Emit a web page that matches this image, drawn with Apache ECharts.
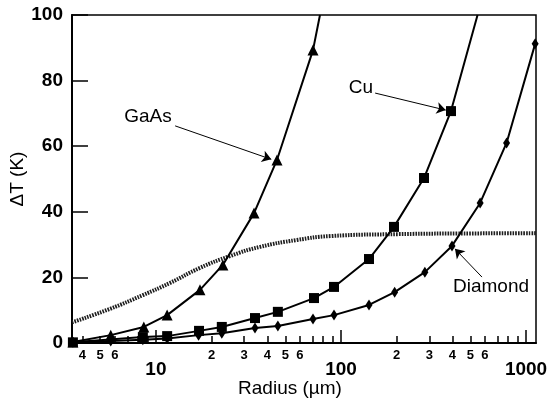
<!DOCTYPE html>
<html><head><meta charset="utf-8">
<script src="https://cdn.jsdelivr.net/npm/echarts@6/dist/echarts.min.js"></script>
<style>html,body{margin:0;padding:0;background:#fff}#c{width:550px;height:404px}</style>
</head><body><div id="c"></div>
<script>
// ---- data ----
const radiusGaAs = [3.56, 5.7, 8.6, 11.5, 17.3, 23.0, 33.9, 45.1, 70.6];
const dTGaAs     = [0.3, 2.4, 4.9, 8.5, 16.2, 23.8, 39.6, 55.8, 89.3];
const gaasTopExit = [77, 100];

const radiusCu = [3.56, 8.5, 11.5, 17.1, 22.7, 34.3, 45.6, 71.5, 91.7, 141.7, 193.4, 281, 393];
const dTCu     = [0.2, 1.8, 2.1, 3.7, 4.9, 7.6, 9.5, 13.7, 17.1, 25.6, 35.4, 50.3, 70.7];
const cuTopExit = [547, 100];

const radiusDiamond = [3.56, 5.7, 8.5, 11.5, 17.0, 22.7, 34.3, 45.6, 70.6, 91.7, 141.7, 195, 284, 398, 565, 785, 1120];
const dTDiamond     = [0.2, 0.6, 1.0, 1.4, 2.4, 3.0, 4.6, 5.2, 7.3, 8.5, 11.6, 15.5, 21.6, 29.6, 42.7, 61.0, 91.2];

const radiusFilm = [3.52, 5.64, 8.5, 11.9, 17.3, 25.1, 36.5, 57.7, 87.3, 208, 497, 1132];
const dTFilm     = [6.3, 10.4, 14.6, 18.3, 22.9, 26.5, 29.3, 31.4, 32.6, 33.2, 33.4, 33.5];

const xRange = [3.52, 1132];
const yTicks = [0, 20, 40, 60, 80, 100];
const minorTicks  = [4,5,6,7,8,9,20,30,40,50,60,70,80,90,200,300,400,500,600,700,800,900];
const minorLabels = [4,5,6,20,30,40,50,60,200,300,400,500,600];
const majorTicks  = [10, 100, 1000];

// annotations: label position, arrow start, arrow end (data coordinates)
const noteGaAs    = {text: 'GaAs',    at: [9.05, 68.9], from: [12.7, 66.2], to: [42, 56]};
const noteCu      = {text: 'Cu',      at: [128, 77.7],  from: [153, 76.2],  to: [368, 71.0]};
const noteDiamond = {text: 'Diamond', at: [647, 17.1],  from: [578, 20.1],  to: [413, 28.7]};

// ---- chart ----
const FONT = '"Liberation Sans", Arial, Helvetica, sans-serif';
const lg = Math.log10;
function pairs(xs, ys) { return xs.map((x, i) => [x, ys[i]]); }
function withExit(xs, ys, exit) {
  const d = pairs(xs, ys);
  if (exit) d.push({value: exit, symbol: 'none'});
  return d;
}
function leadDigit(v) {
  const r = Math.round(Math.pow(10, v));
  const p = Math.pow(10, Math.floor(Math.log10(r) + 1e-9));
  return String(Math.round(r / p));
}
function note(n) {
  return {
    markPoint: {
      silent: true, symbol: 'circle', symbolSize: 1, itemStyle: {color: 'rgba(0,0,0,0)'},
      label: {show: true, position: 'inside', formatter: n.text, color: '#000', fontSize: 19, fontFamily: FONT},
      data: [{coord: n.at}]
    },
    markLine: {
      silent: true, symbol: ['none', 'arrow'], symbolSize: 9,
      itemStyle: {color: '#000'},
      lineStyle: {color: '#000', width: 1, type: 'solid'},
      label: {show: false}, emphasis: {disabled: true},
      data: [[{coord: n.from}, {coord: n.to}]]
    }
  };
}

const chart = echarts.init(document.getElementById('c'), null, {renderer: 'canvas'});
const blackLine = {color: '#000', width: 2};
chart.setOption({
  animation: false,
  backgroundColor: '#fff',
  grid: {left: 72, right: 14, top: 15, bottom: 61, show: true, borderColor: '#000', borderWidth: 1.5,
         containLabel: false, outerBoundsMode: 'none'},
  xAxis: [
    {type: 'log', logBase: 10, min: xRange[0], max: xRange[1], position: 'bottom',
     name: 'Radius (µm)', nameLocation: 'middle', nameGap: 36, nameMoveOverlap: false,
     nameTextStyle: {fontFamily: FONT, fontSize: 19, color: '#000', padding: [0, 28, 0, 0]},
     axisLine: {show: true, lineStyle: {color: '#000', width: 2}},
     axisTick: {show: false}, axisLabel: {show: false}, splitLine: {show: false},
     minorTick: {show: false}, minorSplitLine: {show: false}},
    {type: 'value', min: lg(xRange[0]), max: lg(xRange[1]), position: 'bottom',
     axisLine: {show: false}, splitLine: {show: false},
     axisTick: {show: true, inside: true, length: 7, lineStyle: {color: '#000', width: 1.5},
                customValues: minorTicks.map(lg)},
     axisLabel: {show: true, customValues: minorLabels.map(lg), formatter: leadDigit, margin: 6,
                 fontFamily: FONT, fontSize: 13, fontWeight: 'bold', color: '#000'}},
    {type: 'value', min: lg(xRange[0]), max: lg(xRange[1]), position: 'bottom',
     axisLine: {show: false}, splitLine: {show: false},
     axisTick: {show: true, inside: true, length: 13, lineStyle: {color: '#000', width: 1.5},
                customValues: majorTicks.map(lg)},
     axisLabel: {show: true, customValues: majorTicks.map(lg),
                 formatter: v => String(Math.round(Math.pow(10, v))), margin: 17,
                 fontFamily: FONT, fontSize: 19, fontWeight: 'bold', color: '#000'}}
  ],
  yAxis: {
    type: 'value', min: yTicks[0], max: yTicks[yTicks.length - 1], interval: 20,
    name: 'ΔT (K)', nameLocation: 'middle', nameGap: 45, nameRotate: 90, nameMoveOverlap: false,
    nameTextStyle: {fontFamily: FONT, fontSize: 19, color: '#000'},
    axisLine: {show: true, lineStyle: {color: '#000', width: 2}},
    axisTick: {show: true, inside: true, length: 16, lineStyle: {color: '#000', width: 1.5}},
    axisLabel: {margin: 9, fontFamily: FONT, fontSize: 19, fontWeight: 'bold', color: '#000'},
    splitLine: {show: false}
  },
  series: [
    {name: 'Diamond film', type: 'line', smooth: true, showSymbol: false, symbol: 'none',
     data: pairs(radiusFilm, dTFilm), z: 1,
     lineStyle: {color: '#1e1e1e', width: 4, type: [1.6, 1.1]}},
    Object.assign({name: 'Diamond', type: 'line', data: pairs(radiusDiamond, dTDiamond),
     symbol: 'diamond', symbolSize: [7, 11], z: 3,
     itemStyle: {color: '#000'}, lineStyle: blackLine}, note(noteDiamond)),
    Object.assign({name: 'GaAs', type: 'line', data: withExit(radiusGaAs, dTGaAs, gaasTopExit),
     symbol: 'triangle', symbolSize: 11, z: 3,
     itemStyle: {color: '#000'}, lineStyle: blackLine}, note(noteGaAs)),
    Object.assign({name: 'Cu', type: 'line', data: withExit(radiusCu, dTCu, cuTopExit),
     symbol: 'rect', symbolSize: 10, z: 4,
     itemStyle: {color: '#000'}, lineStyle: blackLine}, note(noteCu))
  ]
});
</script>
</body></html>
